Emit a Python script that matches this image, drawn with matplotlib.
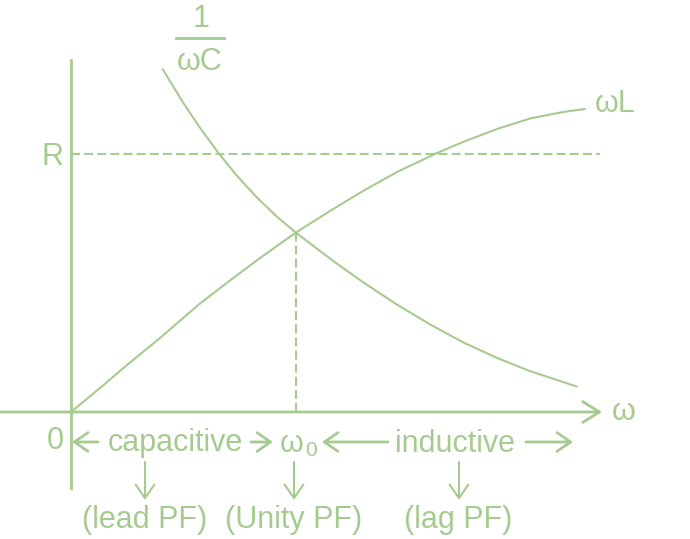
import matplotlib
matplotlib.use("Agg")
import matplotlib.pyplot as plt
import numpy as np

# reactance sketch, coordinates (origin at omega = 0)
omega_L_x = [0, 29, 56, 89, 129, 159, 189, 225, 259, 292, 326, 366, 392, 426, 459, 492, 514]
omega_L_y = [0, 24, 47, 74, 108.5, 131.5, 154, 179.5, 201, 221, 240, 259, 270, 283, 293.5, 300, 303]

omega_C_x = [91.7, 112.3, 129, 148.3, 165.7, 185.7, 205.7, 224.7, 245.7, 265.7,
             292.3, 325.7, 359, 392.3, 425.7, 459, 505.7]
omega_C_y = [342.7, 309.1, 284.2, 257.9, 236.5, 214.7, 195.5, 179.5, 163.5, 148.5,
             129.6, 107.6, 87.6, 69.6, 54.2, 40.9, 25.5]

R_level = 258.5
omega_0 = 225
x_end = 531
y_top = 352
y_bottom = -76

regions = ["capacitive", "inductive"]
pf_labels = ["(lead PF)", "(Unity PF)", "(lag PF)"]
pf_x = [74, 223, 387]

green = "#a6cb91"
font = ["Liberation Sans", "DejaVu Sans"]


def arrow(ax, start, end, lw=2.0, hl=0.65, hw=0.45):
    ax.annotate("", xy=end, xytext=start,
                arrowprops=dict(arrowstyle="->, head_length=%s, head_width=%s" % (hl, hw),
                                color=green, lw=lw, mutation_scale=15,
                                shrinkA=0, shrinkB=0))


def main():
    fig = plt.figure(figsize=(6.9, 5.39), dpi=100)
    ax = fig.add_axes([0, 0, 1, 1])
    ax.set_xlim(-71, 619)
    ax.set_ylim(-127, 412)
    ax.axis("off")

    # axes
    arrow(ax, (-71, 0), (x_end, 0), lw=2.0, hl=0.8, hw=0.5)
    ax.plot([0, 0], [y_bottom, y_top], color=green, lw=2.0)

    # R level and omega_0 drop line
    ax.plot([0, 529], [R_level, R_level], color=green, lw=1.5, dashes=(4.3, 2.0))
    ax.plot([omega_0, omega_0], [0, 179], color=green, lw=1.5, dashes=(4.3, 2.0))

    # curves
    ax.plot(omega_L_x, omega_L_y, color=green, lw=1.5,
            solid_capstyle="round", solid_joinstyle="round")
    ax.plot(omega_C_x, omega_C_y, color=green, lw=1.5,
            solid_capstyle="round", solid_joinstyle="round")

    kw = dict(color=green, family=font, fontsize=22)
    ax.text(-19, 247, "R", ha="center", va="baseline", **kw)
    ax.text(524, 300, "\u03c9L", ha="left", va="baseline", **kw)
    ax.text(541, -8, "\u03c9", ha="left", va="baseline", **kw)
    ax.text(130, 385, "1", ha="center", va="baseline", **kw)
    ax.plot([105, 153], [374, 374], color=green, lw=2.0)
    ax.text(129, 342, "\u03c9C", ha="center", va="baseline", **kw)

    # bottom annotations
    ax.text(-16, -37, "0", ha="center", va="baseline", **kw)
    arrow(ax, (27, -30), (1, -30))
    ax.text(104.5, -39, regions[0], ha="center", va="baseline", **kw)
    arrow(ax, (180, -30), (202, -30))
    ax.text(221, -40, "\u03c9", ha="center", va="baseline", **kw)
    ax.text(240.5, -44, "0", ha="center", va="baseline",
            color=green, family=font, fontsize=15)
    arrow(ax, (317, -30), (251, -30))
    ax.text(384, -40, regions[1], ha="center", va="baseline", **kw)
    arrow(ax, (455, -30), (502, -30))

    for x in [74, 223, 388]:
        arrow(ax, (x, -50), (x, -88), lw=1.5)
    for x, lab in zip(pf_x, pf_labels):
        ax.text(x, -116, lab, ha="center", va="baseline", **kw)

    fig.savefig("out.png", dpi=100, facecolor="white")


if __name__ == "__main__":
    main()
